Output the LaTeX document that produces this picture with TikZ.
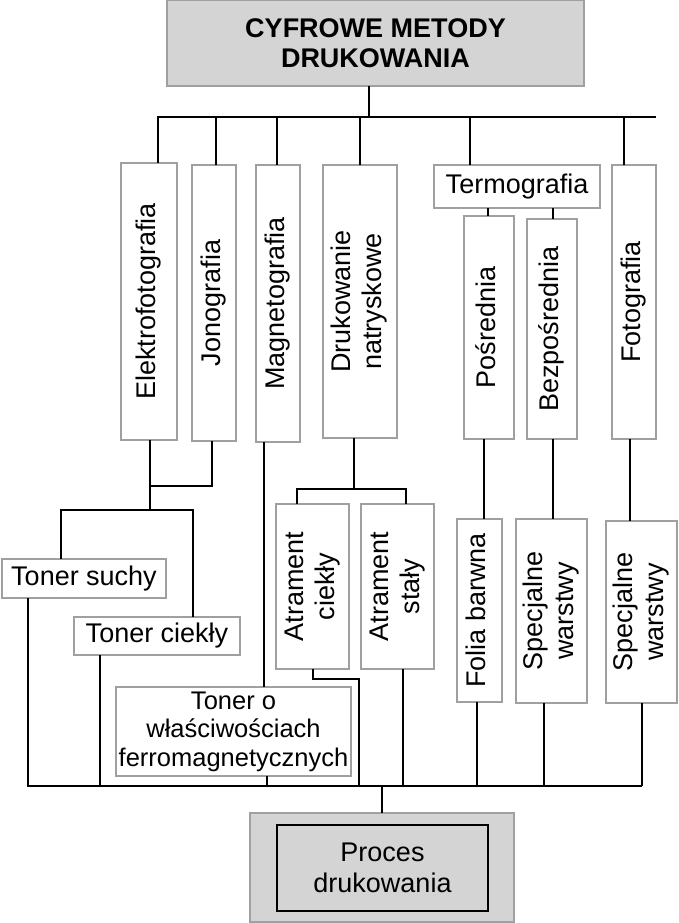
\documentclass[tikz,border=0pt]{standalone}
\usepackage{fontspec}
\setmainfont{Liberation Sans}
\usepackage{graphicx}
\definecolor{boxgray}{RGB}{212,212,212}
\definecolor{boxline}{RGB}{160,160,160}
\newcommand{\boxfont}{\fontsize{27}{31}\selectfont}
\newcommand{\vlabel}[1]{\rotatebox{90}{\begin{tabular}{@{}c@{}}#1\end{tabular}}}

\begin{document}
\begin{tikzpicture}[x=1pt, y=-1pt,
    box/.style={draw=boxline, line width=1.2pt, fill=white, inner sep=0pt, outer sep=0pt, font=\boxfont, align=center},
    conn/.style={line width=2pt, black}]
\useasboundingbox (0,0) rectangle (678,923);
\node[box, fill=boxgray, minimum width=417, minimum height=86, font=\fontsize{27}{30}\selectfont\bfseries] (metody) at (375.5,43) {CYFROWE METODY\\DRUKOWANIA};
\node[box, minimum width=56, minimum height=277] (elektro) at (149,301.5) {\vlabel{Elektrofotografia}};
\node[box, minimum width=44, minimum height=276] (jono) at (214,303) {\vlabel{Jonografia}};
\node[box, minimum width=44, minimum height=277] (magneto) at (278,303.5) {\vlabel{Magnetografia}};
\node[box, minimum width=74, minimum height=273] (natrysk) at (360,301.5) {\vlabel{Drukowanie\\natryskowe}};
\node[box, minimum width=166, minimum height=43] (termo) at (517,186.5) {Termografia};
\node[box, minimum width=50, minimum height=223] (posr) at (489,327.5) {\vlabel{Pośrednia}};
\node[box, minimum width=50, minimum height=220] (bezp) at (552,329) {\vlabel{Bezpośrednia}};
\node[box, minimum width=44, minimum height=274] (foto) at (634,302) {\vlabel{Fotografia}};
\node[box, minimum width=164, minimum height=39] (suchy) at (84,578.5) {Toner suchy};
\node[box, minimum width=166, minimum height=38] (ciekly) at (157,636) {Toner ciekły};
\node[box, minimum width=235, minimum height=89, font=\fontsize{25.5}{28.5}\selectfont] (ferro) at (233.5,731.5) {Toner o\\właściwościach\\ferromagnetycznych};
\node[box, minimum width=73, minimum height=165] (atrc) at (312.5,586.5) {\vlabel{Atrament\\ciekły}};
\node[box, minimum width=73, minimum height=165] (atrs) at (397.5,586.5) {\vlabel{Atrament\\stały}};
\node[box, minimum width=45, minimum height=183] (folia) at (479.5,610.5) {\vlabel{Folia barwna}};
\node[box, minimum width=71, minimum height=184] (spec1) at (551.5,611) {\vlabel{Specjalne\\warstwy}};
\node[box, minimum width=71, minimum height=182] (spec2) at (641.5,612) {\vlabel{Specjalne\\warstwy}};
\node[box, fill=boxgray, minimum width=264, minimum height=109] (procesbg) at (382,867.5) {};
\node[box, fill=boxgray, draw=black, line width=2.2pt, minimum width=211, minimum height=86] (proces) at (382.5,868) {Proces\\drukowania};
\coordinate (tb) at (656,117);
\coordinate (bb) at (641.5,786);
\coordinate (ej) at (150,486);
\coordinate (ts) at (150,510);
\coordinate (dj) at (353.5,489);
\coordinate (ac) at (359,679);
\draw[conn] ([xshift=-6.5]metody.south) -- ([xshift=-6.5]metody.south |- tb);
\draw[conn] ([xshift=9]elektro.north) |- (tb);
\draw[conn] ([xshift=2]jono.north) -- ([xshift=2]jono.north |- tb);
\draw[conn] ([xshift=-1]magneto.north) -- ([xshift=-1]magneto.north |- tb);
\draw[conn] (natrysk.north) -- (natrysk.north |- tb);
\draw[conn] ([xshift=-47]termo.north) -- ([xshift=-47]termo.north |- tb);
\draw[conn] ([xshift=-10]foto.north) -- ([xshift=-10]foto.north |- tb);
\draw[conn] ([xshift=-29]termo.south) -- ([xshift=-1]posr.north);
\draw[conn] ([xshift=36]termo.south) -- ([xshift=1]bezp.north);
\draw[conn] ([xshift=-5]posr.south) -- ([xshift=4.5]folia.north);
\draw[conn] ([xshift=1]bezp.south) -- ([xshift=1.5]spec1.north);
\draw[conn] ([xshift=-4]foto.south) -- ([xshift=-11.5]spec2.north);
\draw[conn] ([xshift=1]elektro.south) -- (ts);
\draw[conn] ([xshift=-2]jono.south) |- (ej);
\draw[conn] ([xshift=-23]suchy.north) |- (ts) -| ([xshift=36]ciekly.north);
\draw[conn] ([xshift=-14]magneto.south) -- ([xshift=30.5]ferro.north);
\draw[conn] ([xshift=-6.5]natrysk.south) -- (dj);
\draw[conn] ([xshift=-15.5]atrc.north) |- (dj) -| ([xshift=8.5]atrs.north);
\draw[conn] ([xshift=-56]suchy.south) |- (bb);
\draw[conn] ([xshift=-57]ciekly.south) -- ([xshift=-57]ciekly.south |- bb);
\draw[conn] ([xshift=33.5]ferro.south) -- ([xshift=33.5]ferro.south |- bb);
\draw[conn] (atrc.south) |- (ac) -- (ac |- bb);
\draw[conn] ([xshift=5.5]atrs.south) -- ([xshift=5.5]atrs.south |- bb);
\draw[conn] ([xshift=-2.5]folia.south) -- ([xshift=-2.5]folia.south |- bb);
\draw[conn] ([xshift=-7.5]spec1.south) -- ([xshift=-7.5]spec1.south |- bb);
\draw[conn] (spec2.south) -- (bb);
\draw[conn] (procesbg.north) -- (procesbg.north |- bb);
\end{tikzpicture}
\end{document}
